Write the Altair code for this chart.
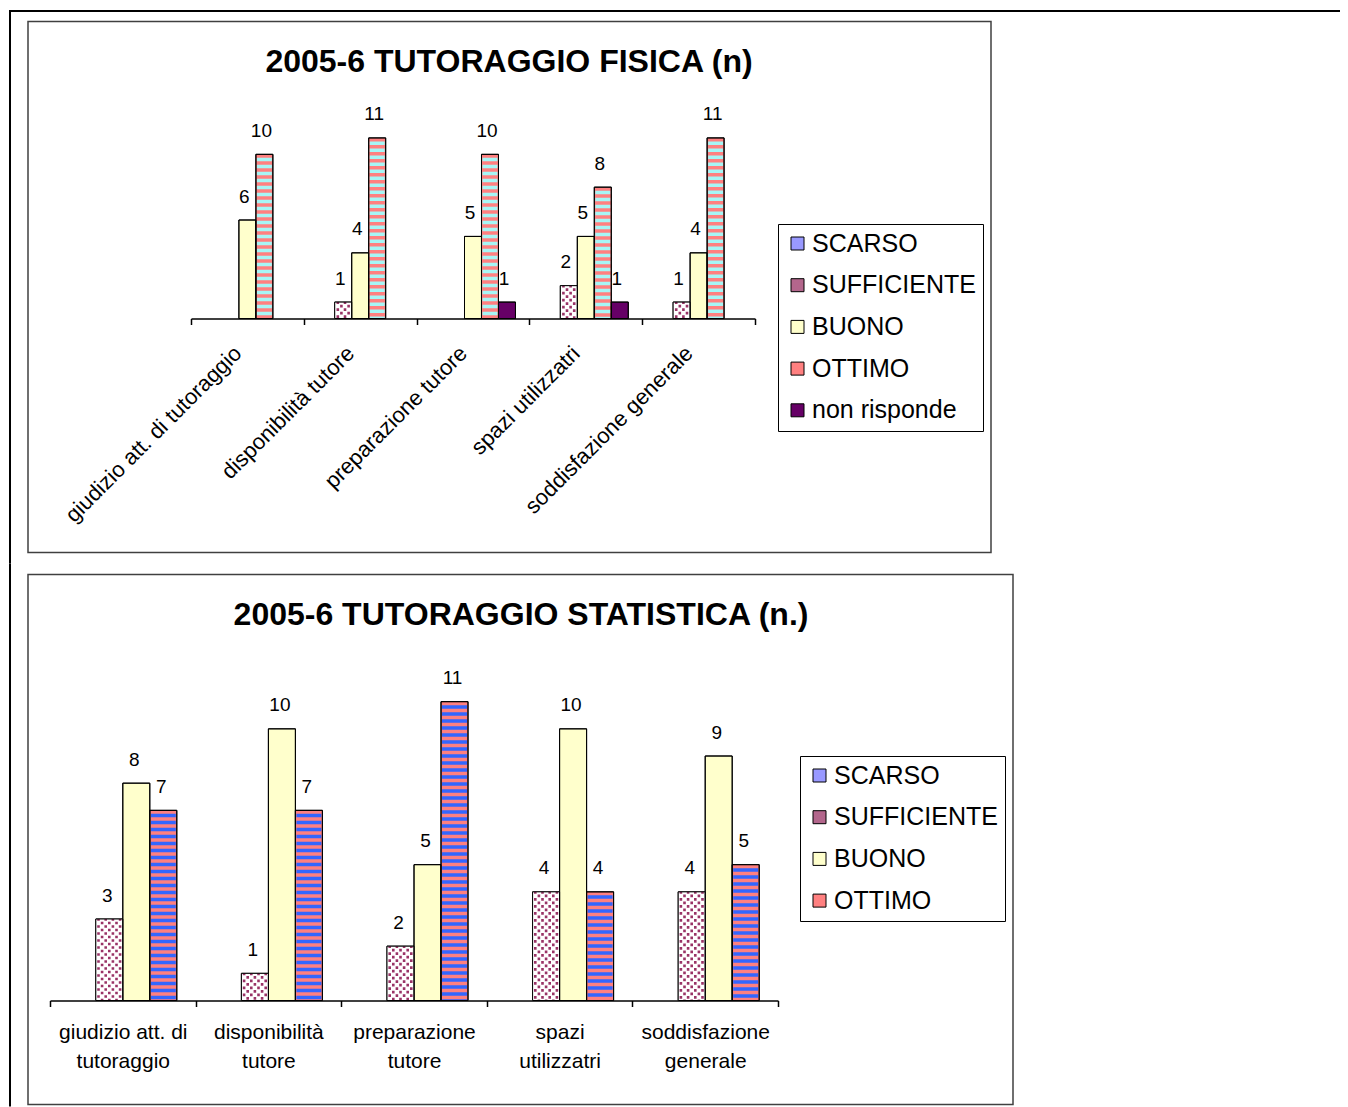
import json
import altair as alt
import pandas as pd

FONT = "Liberation Sans, Arial, sans-serif"

# ---------------- data ----------------
cats = ["giudizio att. di tutoraggio", "disponibilità tutore", "preparazione tutore",
        "spazi utilizzatri", "soddisfazione generale"]
cats_stat_lines = [["giudizio att. di", "tutoraggio"], ["disponibilità", "tutore"],
                   ["preparazione", "tutore"], ["spazi", "utilizzatri"],
                   ["soddisfazione", "generale"]]

title_fis = "2005-6 TUTORAGGIO FISICA (n)"
series_fis = ["SCARSO", "SUFFICIENTE", "BUONO", "OTTIMO", "non risponde"]
fis_scarso = [0, 0, 0, 0, 0]
fis_suff = [0, 1, 0, 2, 1]
fis_buono = [6, 4, 5, 5, 4]
fis_ottimo = [10, 11, 10, 8, 11]
fis_nr = [0, 0, 1, 1, 0]

title_stat = "2005-6 TUTORAGGIO STATISTICA (n.)"
series_stat = ["SCARSO", "SUFFICIENTE", "BUONO", "OTTIMO"]
stat_scarso = [0, 0, 0, 0, 0]
stat_suff = [3, 1, 2, 4, 4]
stat_buono = [8, 10, 5, 10, 9]
stat_ottimo = [7, 7, 11, 4, 5]

# ---------------- styles ----------------
PINK = "#FF8080"
DOT = "#993366"
colors_fis = ["#9999FF", "#B3668C", "#FFFFCC", PINK, "#660066"]
colors_stat = ["#9999FF", "#B3668C", "#FFFFCC", PINK]


def long_df(series, cols):
    rows = []
    for s, vals in zip(series, cols):
        for c, v in zip(cats, vals):
            rows.append({"cat": c, "series": s, "value": v})
    return pd.DataFrame(rows)


def one_row():
    return pd.DataFrame({"k": [0]})


def build(df, series, colors, stripe_color, width, height, x_range, off_pad, bar_w,
          label_dx, axis, legend, title, title_xy, frame, black_rects):
    sc = dict(domain=cats, paddingInner=0, paddingOuter=0)
    if x_range is not None:
        sc["range"] = x_range
    x_scale = alt.Scale(**sc)
    off_scale = alt.Scale(type="band", domain=series, paddingInner=0, paddingOuter=off_pad)
    y_scale = alt.Scale(domain=[0, 12], nice=False, zero=True)

    X = alt.X("cat:N", scale=x_scale, axis=axis, sort=cats)
    XO = alt.XOffset("series:N", scale=off_scale, sort=series)
    Y = alt.Y("value:Q", scale=y_scale, axis=None)

    base = alt.Chart(df).transform_filter("datum.value > 0")
    layers = []
    layers.append(base.mark_bar(stroke="black", strokeWidth=1).encode(
        x=X, xOffset=XO, y=Y,
        color=alt.Color("series:N", scale=alt.Scale(domain=series, range=colors),
                        sort=series, legend=legend)))
    suff = base.transform_filter("datum.series == 'SUFFICIENTE'")
    layers.append(suff.mark_bar(fill="white").encode(x=X, xOffset=XO, y=Y))

    # dotted pattern: columns of short dashes at sub-slot positions
    gap = 3.6
    k = int((bar_w - 3) // gap) + 1
    start = (bar_w - (k - 1) * gap) / 2
    n = len(series)
    oq = alt.Scale(domain=[-off_pad, n + off_pad], nice=False, zero=False)
    for parity in (0, 1):
        layers.append(
            suff.transform_calculate(col=f"sequence(0, {k})")
            .transform_flatten(["col"])
            .transform_filter(f"datum.col % 2 == {parity}")
            .transform_calculate(
                pos=f"indexof({json.dumps(series)}, datum.series) + ({start} + datum.col * {gap}) / {bar_w}")
            .mark_rule(color=DOT, strokeWidth=2.6, strokeDash=[2.6, 4.4],
                       strokeDashOffset=(0.8 if parity == 0 else 4.3), strokeCap="butt")
            .encode(x=X, xOffset=alt.XOffset("pos:Q", scale=oq), y=Y, y2=alt.datum(0)))

    ott = base.transform_filter("datum.series == 'OTTIMO'")
    layers.append(ott.mark_rule(color=stripe_color, strokeWidth=bar_w - 2,
                                strokeDash=[3.5, 3.5], strokeDashOffset=3.5,
                                strokeCap="butt").encode(x=X, xOffset=XO, y=Y, y2=alt.datum(0)))
    layers.append(base.mark_bar(fillOpacity=0, stroke="black", strokeWidth=1).encode(
        x=X, xOffset=XO, y=Y))
    layers.append(base.mark_text(font=FONT, fontSize=19, dy=-17.5, dx=label_dx,
                                 baseline="alphabetic", color="black").encode(
        x=X, xOffset=XO, y=Y, text="value:Q"))
    # decorations
    fx1, fx2, fy1, fy2 = frame
    layers.append(alt.Chart(one_row()).mark_rect(fillOpacity=0, stroke="#404040",
                                                  strokeWidth=1.5).encode(
        x=alt.value(fx1), x2=alt.value(fx2), y=alt.value(fy1), y2=alt.value(fy2)))
    for (a, b, c, d) in black_rects:
        layers.append(alt.Chart(one_row()).mark_rect(fill="black").encode(
            x=alt.value(a), x2=alt.value(b), y=alt.value(c), y2=alt.value(d)))
    layers.append(alt.Chart(one_row()).mark_text(
        font=FONT, fontSize=32, fontWeight="bold", align="center",
        baseline="alphabetic", color="black").encode(
        x=alt.value(title_xy[0]), y=alt.value(title_xy[1]), text=alt.value(title)))
    return alt.layer(*layers).resolve_scale(xOffset="independent").properties(
        width=width, height=height)


def legend_for(lx, ly):
    return alt.Legend(orient="none", legendX=lx, legendY=ly, title=None,
                      symbolType="square", symbolSize=169, symbolStrokeColor="black",
                      symbolStrokeWidth=1, labelFont=FONT, labelFontSize=25,
                      labelColor="black", labelLimit=400, padding=7, rowPadding=15.7,
                      labelOffset=2, strokeColor="black", fillColor="white")


axis_fis = alt.Axis(title=None, grid=False, domainColor="black", domainWidth=1.5,
                    tickColor="black", tickWidth=1.5, tickSize=6, tickBand="extent",
                    labelAngle=315, labelAlign="right", labelBaseline="middle",
                    labelFont=FONT, labelFontSize=22, labelColor="black",
                    labelPadding=25, labelOffset=-10, labelLimit=400, labelOverlap=False)

label_expr = "{}[indexof({}, datum.value)]".format(
    json.dumps(cats_stat_lines, ensure_ascii=False), json.dumps(cats, ensure_ascii=False))
axis_stat = alt.Axis(title=None, grid=False, domainColor="black", domainWidth=1.5,
                     tickColor="black", tickWidth=1.5, tickSize=6, tickBand="extent",
                     labelAngle=0, labelAlign="center", labelBaseline="top",
                     labelFont=FONT, labelFontSize=21, labelColor="black",
                     labelPadding=15, labelLineHeight=29, labelLimit=400,
                     labelOverlap=False, labelExpr=label_expr)

df_fis = long_df(series_fis, [fis_scarso, fis_suff, fis_buono, fis_ottimo, fis_nr])
df_stat = long_df(series_stat, [stat_scarso, stat_suff, stat_buono, stat_ottimo])

# plot origins: chart1 (50,121) page, chart2 (50,674) page
chart1 = build(df_fis, series_fis, colors_fis, "#A6F6F6", width=705, height=197,
               x_range=[141, 705], off_pad=0.82, bar_w=17, label_dx=-3,
               axis=axis_fis, legend=legend_for(728, 102.5),
               title=title_fis, title_xy=(459, -49.5),
               frame=(-22, 941, -100, 431),
               black_rects=[(-41, 1290, -111.5, -109.5), (-41, -39, -111.5, 442)])

chart2 = build(df_stat, series_stat, colors_stat, "#3366FF", width=728, height=326,
               x_range=None, off_pad=0.696, bar_w=27, label_dx=-2,
               axis=axis_stat, legend=legend_for(750, 81.5),
               title=title_stat, title_xy=(471, -50),
               frame=(-22, 963, -100, 430),
               black_rects=[(-41, -39, -111, 432)])

chart = alt.vconcat(chart1, chart2, spacing=0).resolve_scale(
    color="independent", x="independent", y="independent", xOffset="independent"
).resolve_legend(color="independent").properties(
    padding={"left": 1, "top": 1.5, "right": 0, "bottom": 0}, background="white"
).configure_view(strokeWidth=0)

chart.save("out.html", embed_options={"renderer": "svg", "actions": False})
